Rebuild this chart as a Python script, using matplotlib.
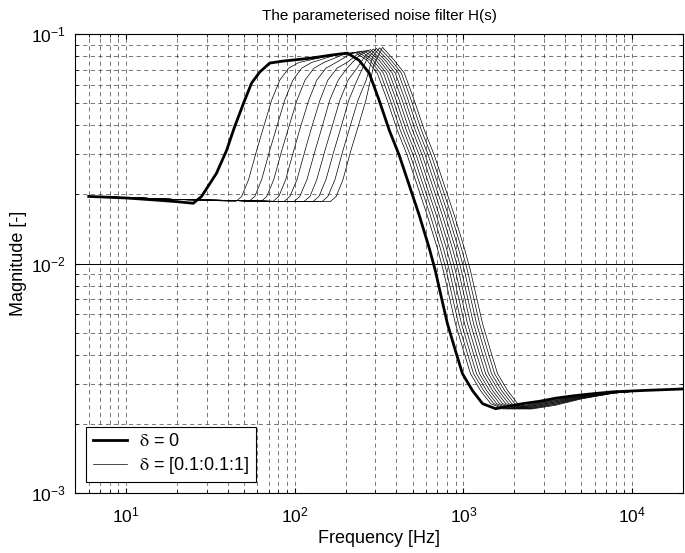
import numpy as np
import matplotlib
matplotlib.use("Agg")
import matplotlib.pyplot as plt

plt.rcParams['font.family'] = ['Liberation Sans', 'DejaVu Sans']
plt.rcParams['mathtext.fontset'] = 'stix'

# delta = 0 (thick line)
f0 = [6, 10, 15, 20, 25, 28, 34.3, 39.4, 43.9, 49.7, 55.4, 61.9, 71, 85, 96, 126, 166, 205,
      240, 276, 316, 363, 416, 477, 547, 628, 681, 740, 803, 896, 986, 1132, 1298, 1550,
      2244, 2830, 3530, 4460, 5630, 7700, 12000, 20000]
m0 = [0.0196, 0.0193, 0.0189, 0.0186, 0.0183, 0.0196, 0.0247, 0.0311, 0.0393, 0.0500, 0.0611,
      0.0682, 0.0747, 0.0762, 0.0769, 0.0786, 0.0810, 0.0826,
      0.0769, 0.0676, 0.0515, 0.0381, 0.0296, 0.0219, 0.0162, 0.0116, 0.0093, 0.0071, 0.00547,
      0.00417, 0.00331, 0.00279, 0.00245, 0.00233,
      0.00245, 0.00251, 0.00259, 0.00265, 0.00270, 0.00276, 0.00280, 0.00284]

# delta = 0.1 ... 1 (thin lines), read as crossings of fixed magnitude levels
low_f = [6, 12, 20, 30, 45, 65, 90, 125]
low_m = [0.0196, 0.0193, 0.0190, 0.0189, 0.0188, 0.0187, 0.0186, 0.0186]

rise_levels = [0.0186, 0.0196, 0.0232, 0.0311, 0.0393, 0.0515, 0.0630, 0.0710, 0.0752]
rise_f = [
    [44.6, 48.4, 53.2, 59.4, 65.3, 72.9, 81.5, 92.1, 106],
    [53.3, 57.9, 63.6, 71.0, 78.1, 87.1, 97.4, 110, 126],
    [62.8, 68.2, 75.0, 83.7, 92.1, 103, 115, 130, 149],
    [74.0, 80.4, 88.3, 98.6, 108, 121, 135, 153, 176],
    [86.0, 93.5, 103, 115, 126, 141, 157, 178, 204],
    [98.7, 107, 118, 132, 145, 161, 181, 204],
    [113, 123, 135, 151, 166, 185, 207, 234],
    [128, 139, 153, 171, 188, 209, 234],
    [145, 157, 173, 193, 212, 237, 265],
    [162, 176, 193, 215, 237, 264],
]

shoulder_f = [155, 175, 195, 215, 235, 240, 262, 268, 290, 295]
shoulder_m = [0.0800, 0.0810, 0.0815, 0.0820, 0.0815, 0.0805, 0.0805, 0.0780, 0.0800, 0.0740]
peak_f = [229, 238, 248, 259, 270, 281, 293, 305, 318, 331]
peak_m = [0.0830, 0.0835, 0.0840, 0.0845, 0.0850, 0.0855, 0.0860, 0.0865, 0.0870, 0.0875]

fall_levels = [0.0769, 0.0676, 0.0515, 0.0381, 0.0296, 0.0219, 0.0162, 0.0116, 0.0093,
               0.00547, 0.00417, 0.00331, 0.00279, 0.00245, 0.00232]
fall_f = [
    [268, 308, 353, 405, 464, 532, 610, 701, 760, 896, 1000, 1100, 1263, 1449, 1730],
    [279, 321, 368, 422, 484, 555, 636, 730, 792, 934, 1042, 1147, 1317, 1510, 1803],
    [291, 335, 383, 440, 504, 578, 663, 761, 825, 973, 1086, 1195, 1372, 1573, 1879],
    [303, 349, 399, 458, 525, 602, 691, 793, 860, 1014, 1132, 1245, 1430, 1639, 1958],
    [316, 363, 416, 477, 547, 627, 719, 826, 896, 1056, 1178, 1297, 1489, 1707, 2038],
    [329, 378, 433, 498, 570, 654, 750, 861, 934, 1101, 1228, 1352, 1552, 1780, 2125],
    [343, 394, 451, 518, 594, 681, 781, 897, 972, 1147, 1279, 1408, 1617, 1854, 2213],
    [357, 411, 470, 540, 619, 710, 814, 934, 1013, 1195, 1333, 1467, 1684, 1931, 2306],
    [372, 428, 490, 563, 645, 740, 848, 974, 1056, 1245, 1390, 1529, 1756, 2013, 2404],
    [388, 446, 510, 586, 672, 770, 883, 1014, 1100, 1297, 1447, 1592, 1828, 2096, 2503],
]

tail_f = [3500, 5000, 7700, 12000, 20000]
tail_m = [
    [0.00255, 0.00266, 0.00276, 0.00280, 0.00284],
    [0.00253, 0.00265, 0.00276, 0.00280, 0.00284],
    [0.00252, 0.00264, 0.00275, 0.00280, 0.00284],
    [0.00250, 0.00263, 0.00275, 0.00280, 0.00284],
    [0.00249, 0.00262, 0.00274, 0.00280, 0.00284],
    [0.00247, 0.00261, 0.00274, 0.00280, 0.00284],
    [0.00246, 0.00260, 0.00273, 0.00280, 0.00284],
    [0.00244, 0.00259, 0.00273, 0.00280, 0.00284],
    [0.00243, 0.00258, 0.00272, 0.00280, 0.00284],
    [0.00241, 0.00257, 0.00272, 0.00280, 0.00284],
]

fig = plt.figure(figsize=(6.85, 5.53), dpi=100)
ax = fig.add_axes([0.110, 0.1085, 0.887, 0.83])

for k in range(10):
    n = sum(1 for v in low_f if v < rise_f[k][0])
    f = low_f[:n] + rise_f[k] + [shoulder_f[k], peak_f[k]] + fall_f[k] + tail_f
    m = low_m[:n] + rise_levels[:len(rise_f[k])] + [shoulder_m[k], peak_m[k]] + fall_levels + tail_m[k]
    ax.loglog(f, m, color='black', linewidth=0.5,
              label=r'$\mathrm{\delta}$ = [0.1:0.1:1]' if k == 0 else None, zorder=3)

ax.loglog(f0, m0, color='black', linewidth=2.0, label=r'$\mathrm{\delta}$ = 0', zorder=4)

ax.set_xlim(5, 2e4)
ax.set_ylim(1e-3, 1e-1)

ax.grid(True, which='both', color='0.25', linestyle=(0, (6, 5)), linewidth=0.5)
ax.axhline(1e-2, color='black', linewidth=0.7, zorder=2)
ax.tick_params(which='both', direction='in', top=True, right=True, labelsize=12.5)
ax.tick_params(axis='x', pad=9)
ax.tick_params(axis='y', pad=7)

ax.set_xlabel('Frequency [Hz]', fontsize=13, labelpad=3)
ax.set_ylabel('Magnitude [-]', fontsize=13, labelpad=3)
ax.set_title('The parameterised noise filter H(s)', fontsize=11, pad=10)

h, l = ax.get_legend_handles_labels()
leg = ax.legend(h[::-1], l[::-1], loc='lower left', fontsize=13, fancybox=False,
                edgecolor='black', framealpha=1, handlelength=1.9, handletextpad=0.7,
                labelspacing=0.25, borderpad=0.35, borderaxespad=0.6)
leg.get_frame().set_linewidth(0.8)

fig.savefig('out.png', dpi=100)
